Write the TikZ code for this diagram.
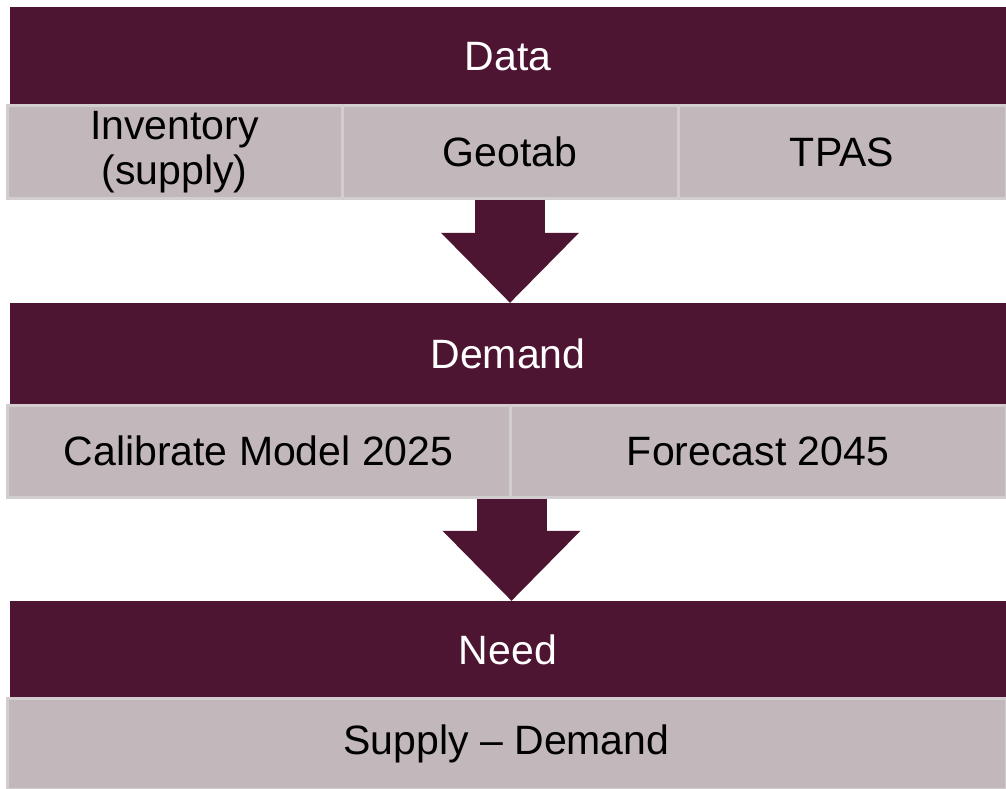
\documentclass[tikz,border=0pt]{standalone}
\usepackage{fontspec}
\setmainfont{Liberation Sans}
\usetikzlibrary{arrows.meta}
\definecolor{maroon}{HTML}{4E1533}
\definecolor{cellgrey}{HTML}{C2B8BB}
\definecolor{cellline}{HTML}{D2CDCE}
\tikzset{header/.style={fill=maroon,text=white,minimum width=996pt,inner sep=0pt,
           font=\fontsize{41}{45}\selectfont},
         cell/.style={fill=cellgrey,draw=cellline,line width=3pt,minimum height=92pt,inner sep=0pt,
           text=black,align=center,font=\fontsize{41}{45}\selectfont},
         bigarrow/.style={draw=maroon,line width=70pt,
           -{Triangle[width=138pt,length=70pt,line width=0pt,fill=maroon]}}}

\begin{document}
\begin{tikzpicture}[x=1pt,y=-1pt]
\useasboundingbox (0,0) rectangle (1006,789);
% data
\node[header,minimum height=99pt] (data) at (508,56.5) {Data};
\node[cell,minimum width=335pt] (inventory) at (174.5,152) {Inventory\\(supply)};
\node[cell,minimum width=336pt] (geotab) at (510,152) {Geotab};
\node[cell,minimum width=328pt] (tpas) at (842,152) {TPAS};
% demand
\node[header,minimum height=102pt] (demand) at (508,354) {Demand};
\node[cell,minimum width=503pt] (calibrate) at (258.5,451) {Calibrate Model 2025};
\node[cell,minimum width=496pt] (forecast) at (758,451) {Forecast 2045};
% need
\node[header,minimum height=97pt] (need) at (508,649.5) {Need};
\node[cell,minimum width=999pt,minimum height=91pt] (supplydemand) at (506.5,743.5) {Supply -- Demand};

\draw[bigarrow] (geotab.south) -- (geotab.south |- demand.north);
\draw[bigarrow] (calibrate.south east) -- (calibrate.south east |- need.north);
\end{tikzpicture}
\end{document}
